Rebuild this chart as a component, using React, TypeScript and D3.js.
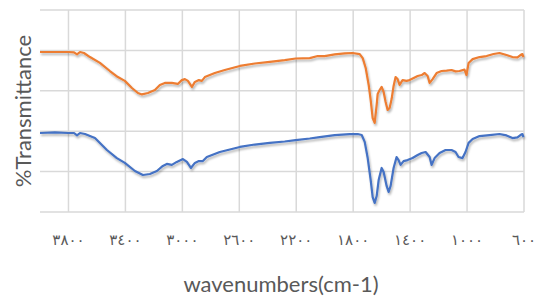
import * as d3 from "d3";
import { useMemo } from "react";

const wavenumbers1 = [4000, 3895, 3800, 3761, 3740, 3719, 3691, 3649, 3579, 3509, 3453, 3404, 3354, 3312, 3284, 3242, 3193, 3158, 3123, 3074, 3032, 3004, 2982, 2961, 2933, 2912, 2884, 2863, 2842, 2772, 2702, 2596, 2491, 2386, 2281, 2204, 2105, 2049, 2000, 1930, 1860, 1804, 1754, 1733, 1712, 1691, 1677, 1663, 1649, 1635, 1628, 1614, 1600, 1586, 1572, 1558, 1544, 1530, 1516, 1502, 1488, 1474, 1453, 1425, 1404, 1375, 1347, 1319, 1298, 1277, 1263, 1242, 1214, 1179, 1144, 1109, 1081, 1053, 1018, 1004, 989, 961, 912, 863, 814, 772, 723, 681, 646, 625, 611, 604];
const sample1 = [79.2, 79.2, 79.2, 79.0, 78.0, 79.2, 78.7, 76.7, 73.8, 69.8, 66.8, 64.9, 61.4, 58.9, 58.2, 58.9, 60.4, 62.9, 63.9, 63.9, 63.4, 65.3, 65.8, 64.9, 61.9, 64.4, 65.3, 64.9, 66.8, 68.8, 70.3, 72.3, 73.5, 74.3, 75.2, 76.0, 76.2, 77.2, 77.2, 78.0, 78.5, 78.7, 78.2, 76.2, 71.3, 62.9, 55.4, 46.5, 44.1, 53.0, 58.4, 60.4, 61.9, 59.4, 54.5, 50.5, 51.5, 55.9, 62.4, 66.8, 65.8, 62.9, 65.3, 64.9, 65.3, 66.3, 67.3, 67.8, 68.8, 67.3, 63.9, 65.8, 68.8, 69.8, 70.0, 70.3, 69.6, 69.8, 70.5, 67.8, 73.8, 75.7, 76.7, 77.2, 78.2, 78.7, 77.7, 76.7, 76.5, 77.7, 78.2, 76.7];

const wavenumbers2 = [4000, 3895, 3800, 3761, 3740, 3719, 3684, 3614, 3530, 3460, 3404, 3333, 3277, 3228, 3179, 3137, 3109, 3074, 3039, 2996, 2968, 2940, 2912, 2884, 2856, 2828, 2737, 2596, 2491, 2386, 2281, 2204, 2105, 2035, 1930, 1825, 1768, 1740, 1719, 1698, 1677, 1663, 1649, 1635, 1621, 1600, 1586, 1565, 1551, 1537, 1516, 1495, 1481, 1467, 1446, 1418, 1383, 1347, 1319, 1291, 1263, 1249, 1228, 1193, 1151, 1109, 1081, 1060, 1032, 1011, 989, 961, 912, 842, 772, 723, 681, 646, 625, 611, 604];
const sample2 = [39.1, 39.4, 39.1, 39.1, 37.9, 39.1, 38.6, 36.6, 30.7, 26.7, 24.3, 20.3, 18.3, 18.8, 20.3, 22.8, 23.8, 23.3, 24.8, 26.2, 24.8, 21.8, 24.3, 25.2, 25.2, 27.2, 29.7, 32.2, 33.4, 34.2, 34.9, 35.6, 36.4, 37.1, 38.1, 38.6, 38.6, 38.1, 34.7, 26.7, 15.8, 7.4, 4.5, 7.9, 15.8, 21.8, 19.8, 12.9, 9.9, 12.9, 21.8, 27.2, 25.7, 23.3, 25.2, 25.7, 26.7, 28.2, 29.2, 29.7, 27.2, 23.3, 26.7, 29.2, 30.7, 30.7, 29.7, 27.2, 26.7, 29.7, 34.2, 36.1, 37.6, 38.1, 38.6, 37.9, 36.6, 36.9, 38.1, 38.6, 37.1];

const xTicks = [3800, 3400, 3000, 2600, 2200, 1800, 1400, 1000, 600];
const yTicks = [0, 20, 40, 60, 80, 100];

const toArabic = (n: number) =>
  String(n).replace(/\d/g, (d) => "٠١٢٣٤٥٦٧٨٩"[+d]);

export default function App() {
  const width = 535;
  const height = 297;
  const left = 40, right = 524, top = 10, bottom = 212;

  const x = useMemo(() => d3.scaleLinear().domain([4000, 600]).range([left, right]), []);
  const y = useMemo(() => d3.scaleLinear().domain([0, 100]).range([bottom, top]), []);

  const line = d3
    .line<[number, number]>()
    .x((d) => x(d[0]))
    .y((d) => y(d[1]));

  const s1 = line(wavenumbers1.map((w, i) => [w, sample1[i]]));
  const s2 = line(wavenumbers2.map((w, i) => [w, sample2[i]]));

  return (
    <svg width={width} height={height} style={{ position: "absolute", left: 0, top: 0 }}>
      <defs>
        <filter id="shadow" x="-10%" y="-10%" width="120%" height="130%">
          <feDropShadow dx="1" dy="2" stdDeviation="1.2" floodColor="#000" floodOpacity="0.3" />
        </filter>
      </defs>
      {yTicks.map((t) => (
        <line key={"h" + t} x1={left} x2={right} y1={y(t)} y2={y(t)} stroke="#d9d9d9" strokeWidth={1.5} />
      ))}
      {xTicks.map((t) => (
        <line key={"v" + t} x1={x(t)} x2={x(t)} y1={top} y2={bottom} stroke="#d9d9d9" strokeWidth={1.5} />
      ))}
      {xTicks.map((t) => (
        <text key={"l" + t} x={x(t)} y={245} textAnchor="middle" fontFamily="DejaVu Sans" fontSize={15} fill="#595959">
          {toArabic(t)}
        </text>
      ))}
      <path d={s1 ?? ""} fill="none" stroke="#ED7D31" strokeWidth={2.2} strokeLinejoin="round" filter="url(#shadow)" />
      <path d={s2 ?? ""} fill="none" stroke="#4472C4" strokeWidth={2.2} strokeLinejoin="round" filter="url(#shadow)" />
      <text x={281} y={292} textAnchor="middle" fontFamily="Lato" fontSize={22} fill="#595959">
        wavenumbers(cm-1)
      </text>
      <text
        transform={`translate(31,${(32 + 190) / 2}) rotate(-90)`}
        textAnchor="middle"
        fontFamily="Lato"
        fontSize={22}
        fill="#595959"
      >
        %Transmittance
      </text>
    </svg>
  );
}
